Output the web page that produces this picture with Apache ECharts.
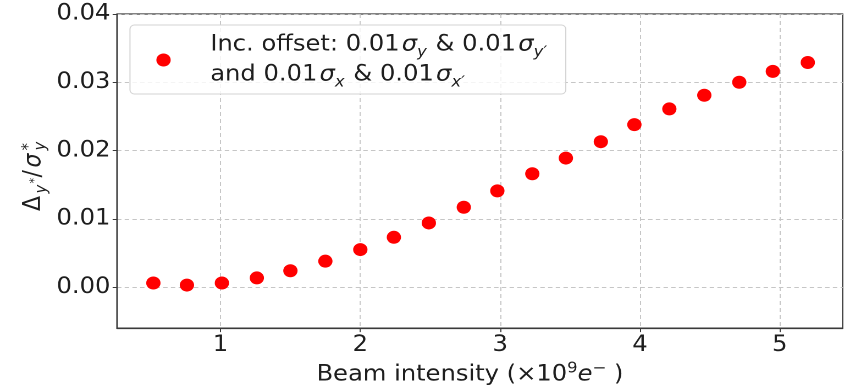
<!DOCTYPE html>
<html>
<head>
<meta charset="utf-8">
<script src="https://cdn.jsdelivr.net/npm/echarts@6/dist/echarts.min.js"></script>
<style>
  html, body { margin: 0; padding: 0; background: #fff; overflow: hidden; }
  /* the figure is drawn on a narrower canvas and widened to the page width */
  #chart { width: 773px; height: 391px; transform: scaleX(1.0996); transform-origin: 0 0; }
</style>
</head>
<body>
<div id="chart"></div>
<script>
// Beam intensity (x 1e9 electrons) and relative IP offset
const intensity = [0.52, 0.76, 1.01, 1.26, 1.50, 1.75, 2.00, 2.24, 2.49, 2.74,
                   2.98, 3.23, 3.47, 3.72, 3.96, 4.21, 4.46, 4.71, 4.95, 5.20];
const offsetRatio = [0.0006, 0.0003, 0.0006, 0.00135, 0.0024, 0.0038, 0.0055, 0.0073, 0.0094, 0.0117,
                     0.0141, 0.0166, 0.0189, 0.0213, 0.0238, 0.0261, 0.0281, 0.0300, 0.0316, 0.0329];
const xTicks = [1, 2, 3, 4, 5];
const yTicks = [0.00, 0.01, 0.02, 0.03, 0.04];
const seriesName = 'Inc. offset';

const FONT = 'DejaVu Sans';
const AXIS_COLOR = '#3a3a3a';
const TEXT_COLOR = '#1e1e1e';
const GRID_LINE = { color: '#c6c6c6', type: [4, 3], width: 1 };

const chart = echarts.init(document.getElementById('chart'), null, { renderer: 'canvas', devicePixelRatio: 2 });

// one glyph run of the rotated y-axis title; `base` is the baseline offset
const txt = (x, base, text, size, italic) => ({
  type: 'text',
  x,
  y: base - 0.346 * size,
  style: {
    text,
    font: `${italic ? 'italic ' : ''}${size}px "${FONT}"`,
    fill: TEXT_COLOR,
    align: 'left',
    verticalAlign: 'middle'
  }
});
// Delta_{y*} / sigma*_y, reading bottom to top
const yTitle = {
  type: 'group',
  x: 38.5,
  y: 210.5,
  rotation: Math.PI / 2,
  children: [
    txt(-0.5, 0, 'Δ', 22, false),
    txt(17, 5, 'y', 15, true),
    txt(27, -3, '*', 11, false),
    txt(33, 0, '/', 22, false),
    txt(43, 0, 'σ', 22, true),
    txt(60, -7, '*', 15, false),
    txt(60, 4, 'y', 15, true)
  ]
};

const legendRich = {
  t:   { fontFamily: FONT, fontSize: 22, lineHeight: 30, color: TEXT_COLOR },
  s:   { fontFamily: FONT, fontSize: 22, lineHeight: 30, fontStyle: 'italic', color: TEXT_COLOR, padding: [0, 0, 0, 2] },
  sub: { fontFamily: FONT, fontSize: 15, lineHeight: 15, fontStyle: 'italic', verticalAlign: 'bottom', color: TEXT_COLOR, padding: [0, 1, 0, 0] }
};

const xNameRich = {
  n:   { fontFamily: FONT, fontSize: 22, lineHeight: 28, color: TEXT_COLOR },
  i:   { fontFamily: FONT, fontSize: 22, lineHeight: 28, fontStyle: 'italic', color: TEXT_COLOR },
  sup: { fontFamily: FONT, fontSize: 15, lineHeight: 15, verticalAlign: 'top', color: TEXT_COLOR }
};

const option = {
  backgroundColor: '#ffffff',
  animation: false,
  grid: {
    left: 106.4, right: 6.6, top: 14, bottom: 60, containLabel: false,
    show: true, borderColor: AXIS_COLOR, borderWidth: 1.2, backgroundColor: 'transparent'
  },
  legend: {
    data: [seriesName],
    left: 118.2,
    top: 25,
    orient: 'vertical',
    padding: [9, 16, 4, 24],
    backgroundColor: 'rgba(255,255,255,0.8)',
    borderColor: '#d4d4d4',
    borderWidth: 1,
    borderRadius: 4,
    icon: 'circle',
    itemWidth: 13,
    itemHeight: 13,
    formatter: () =>
      '{t|Inc. offset: 0.01}{s|σ}{sub|y}{t| & 0.01}{s|σ}{sub|y′}\n' +
      '{t|and 0.01}{s|σ}{sub|x}{t| & 0.01}{s|σ}{sub|x′}',
    textStyle: { rich: legendRich, padding: [0, 0, 0, 31] }
  },
  xAxis: {
    type: 'value',
    min: 0.26,
    max: 5.45,
    name: '{n|Beam intensity (×10}{sup|9}{i|e}{sup|−}{n| )}',
    nameLocation: 'middle',
    nameGap: 31,
    nameTextStyle: { rich: xNameRich, padding: [0, 18, 0, 0] },
    axisLine: { show: true, onZero: false, lineStyle: { color: AXIS_COLOR, width: 1.2 } },
    axisTick: { show: true, length: 4, inside: false, customValues: xTicks, lineStyle: { color: AXIS_COLOR } },
    axisLabel: {
      customValues: xTicks,
      fontFamily: FONT, fontSize: 22, color: TEXT_COLOR, margin: 6,
      formatter: v => String(v)
    },
    splitLine: { show: true, lineStyle: GRID_LINE }
  },
  yAxis: {
    type: 'value',
    min: -0.006,
    max: 0.04,
    axisLine: { show: true, onZero: false, lineStyle: { color: AXIS_COLOR, width: 1.2 } },
    axisTick: { show: true, length: 4, inside: false, customValues: yTicks, lineStyle: { color: AXIS_COLOR } },
    axisLabel: {
      customValues: yTicks,
      fontFamily: FONT, fontSize: 22, color: TEXT_COLOR, margin: 6,
      formatter: v => v.toFixed(2)
    },
    splitLine: { show: true, lineStyle: GRID_LINE }
  },
  graphic: [yTitle],
  series: [{
    name: seriesName,
    type: 'scatter',
    data: intensity.map((x, i) => [x, offsetRatio[i]]),
    symbol: 'circle',
    symbolSize: 13,
    itemStyle: { color: '#ff0000', opacity: 1 },
    z: 5
  }]
};

chart.setOption(option);
</script>
</body>
</html>
